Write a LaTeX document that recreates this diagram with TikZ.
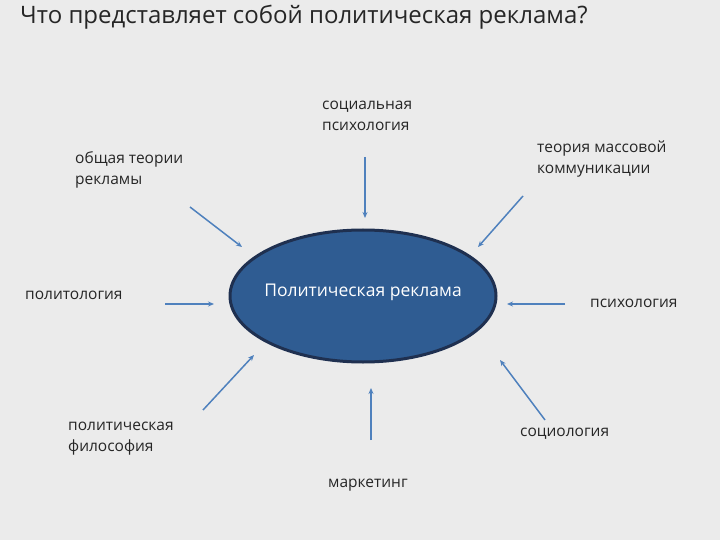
\documentclass[tikz,border=0pt]{standalone}
\usepackage{fontspec}
\setmainfont{Open Sans}
\usetikzlibrary{arrows.meta}
\definecolor{bg}{HTML}{EBEBEB}
\definecolor{arr}{HTML}{4F81BD}
\definecolor{ellf}{HTML}{2F5C92}
\definecolor{elld}{HTML}{1F3050}
\definecolor{txt}{HTML}{262626}
\begin{document}
\begin{tikzpicture}[x=1pt,y=-1pt,
  lbl/.style={anchor=north west,align=left,inner sep=0pt,font=\fontsize{15.5}{21}\selectfont,text=txt},
  con/.style={draw=arr,line width=1.5pt,-{Stealth[length=6pt,width=5pt]}}]
\fill[bg] (0,0) rectangle (720,540);
\useasboundingbox (0,0) rectangle (720,540);
\node[anchor=north west,inner sep=0pt,font=\fontsize{24}{28}\selectfont,text=txt] (title) at (20,5) {Что представляет собой политическая реклама?};
\draw[fill=ellf,draw=elld,line width=3pt] (363,296) ellipse [x radius=133, y radius=66];
\node[inner sep=0pt,text=white,font=\fontsize{17.5}{20}\selectfont] (c) at (363,292) {Политическая реклама};
\node[lbl] (s1) at (322,101) {социальная\\психология};
\node[lbl] (s2) at (75,151) {общая теории\\рекламы};
\node[lbl] (s3) at (537,141) {теория массовой\\коммуникации};
\node[lbl] (s4) at (25,291) {политология};
\node[lbl] (s5) at (590,299) {психология};
\node[lbl] (s6) at (68,422) {политическая\\философия};
\node[lbl] (s7) at (520,428) {социология};
\node[lbl] (s8) at (328,479) {маркетинг};
\coordinate (a1) at (365,157); \coordinate (b1) at (365,218);
\coordinate (a2) at (190,207); \coordinate (b2) at (242,247);
\coordinate (a3) at (165,304); \coordinate (b3) at (214,304);
\coordinate (a4) at (523,196); \coordinate (b4) at (478,247);
\coordinate (a5) at (565,304); \coordinate (b5) at (507,304);
\coordinate (a6) at (203,410); \coordinate (b6) at (254,355);
\coordinate (a7) at (371,440); \coordinate (b7) at (371,388);
\coordinate (a8) at (545,420); \coordinate (b8) at (500,360);
\foreach \i in {1,...,8} \draw[con] (a\i) -- (b\i);
\end{tikzpicture}
\end{document}
